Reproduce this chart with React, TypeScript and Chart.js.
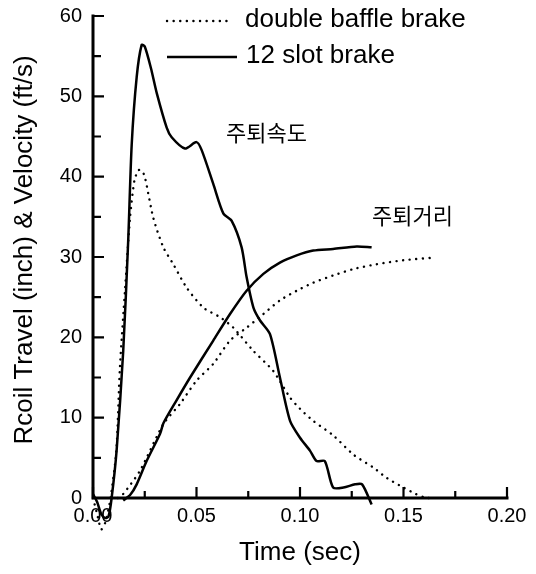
import React, { useEffect, useRef } from "react";
import { Chart, registerables } from "chart.js";

Chart.register(...registerables);

// 12 slot brake - recoil velocity (ft/s)
const slotVelTime = [0, 0.002, 0.004, 0.006, 0.0075, 0.009, 0.0114, 0.0146, 0.017, 0.0187, 0.0211, 0.0235, 0.025, 0.028, 0.0308, 0.0356, 0.038, 0.0444, 0.05, 0.0525, 0.0581, 0.063, 0.067, 0.0718, 0.0742, 0.0775, 0.0807, 0.0855, 0.0903, 0.0952, 0.1, 0.1048, 0.108, 0.112, 0.116, 0.121, 0.1266, 0.13, 0.1346];
const slotVel = [0.5, -0.5, -2.0, -2.5, -2.3, 0, 5.9, 18.3, 32, 44, 52.4, 56.4, 56.2, 53.5, 50.4, 46.1, 44.9, 43.5, 44.3, 43.3, 39.1, 35.4, 34.5, 31.2, 27.5, 23.7, 22.1, 20.4, 15.0, 9.6, 7.5, 5.9, 4.6, 4.6, 1.3, 1.3, 1.7, 1.7, -0.8];

// double baffle brake - recoil velocity (ft/s)
const baffleVelTime = [0, 0.002, 0.004, 0.006, 0.0085, 0.0113, 0.013, 0.0155, 0.0179, 0.02, 0.0219, 0.0235, 0.0251, 0.0291, 0.034, 0.0388, 0.0452, 0.0533, 0.0614, 0.0678, 0.0775, 0.0871, 0.0952, 0.1, 0.1064, 0.116, 0.1258, 0.1354, 0.1419, 0.15, 0.156, 0.161, 0.165];
const baffleVel = [0, -2, -3.9, -3, 0, 6, 16.2, 26, 34.9, 39.5, 40.8, 40.8, 39.9, 34.9, 31.2, 29.1, 26.2, 23.7, 22.5, 21.2, 18.3, 15.8, 12.5, 11.1, 9.6, 7.8, 5.4, 3.8, 2.5, 1.3, 0.5, 0, 0];

// 12 slot brake - recoil travel (inch)
const slotTravelTime = [0.0146, 0.018, 0.0211, 0.0259, 0.0324, 0.034, 0.04, 0.0469, 0.0581, 0.0662, 0.0742, 0.0823, 0.0903, 0.0984, 0.1064, 0.116, 0.1274, 0.1346];
const slotTravel = [-0.3, 0.4, 1.7, 4.6, 8.0, 9.3, 12.0, 15.0, 19.6, 22.9, 25.8, 27.9, 29.3, 30.2, 30.8, 31.0, 31.3, 31.2];

// double baffle brake - recoil travel (inch)
const baffleTravelTime = [0.012, 0.0146, 0.0227, 0.034, 0.042, 0.05, 0.0581, 0.0662, 0.0742, 0.0823, 0.0903, 0.0984, 0.1064, 0.116, 0.1258, 0.137, 0.15, 0.1638];
const baffleTravel = [0, 0.5, 3.4, 9.2, 11.7, 14.6, 16.7, 19.6, 21.2, 22.9, 24.6, 25.8, 26.8, 27.7, 28.5, 29.1, 29.6, 29.9];

const legendNames = ["double baffle brake", "12 slot brake"];
const velocityLabel = "주퇴속도";
const travelLabel = "주퇴거리";
const xTitle = "Time (sec)";
const yTitle = "Rcoil Travel (inch) & Velocity (ft/s)";

const xMajorTicks = [0, 0.05, 0.1, 0.15, 0.2];
const xMinorTicks = [0.025, 0.075, 0.125, 0.175];
const yMajorTicks = [0, 10, 20, 30, 40, 50, 60];
const yMinorTicks = [5, 15, 25, 35, 45, 55];

const FONT = "'Liberation Sans', Arial, Helvetica, sans-serif";
const DOTS = [0.1, 6.5];

function pairs(xs: number[], ys: number[]) {
  return xs.map((x, i) => ({ x, y: ys[i] }));
}

const decorPlugin = {
  id: "decor",
  afterDraw(chart: any) {
    const { ctx, chartArea, scales } = chart;
    const xs = scales.x;
    const ys = scales.y;
    const left = chartArea.left;
    const bottom = chartArea.bottom;
    ctx.save();
    ctx.strokeStyle = "#000";
    ctx.fillStyle = "#000";
    // axes
    ctx.lineWidth = 3;
    ctx.lineCap = "square";
    ctx.beginPath();
    ctx.moveTo(left, ys.getPixelForValue(60));
    ctx.lineTo(left, bottom);
    ctx.lineTo(xs.getPixelForValue(0.2), bottom);
    ctx.stroke();
    // inward ticks
    ctx.lineWidth = 2.2;
    ctx.lineCap = "butt";
    ctx.beginPath();
    xMajorTicks.forEach((t) => {
      const p = xs.getPixelForValue(t);
      ctx.moveTo(p, bottom);
      ctx.lineTo(p, bottom - 11);
    });
    xMinorTicks.forEach((t) => {
      const p = xs.getPixelForValue(t);
      ctx.moveTo(p, bottom);
      ctx.lineTo(p, bottom - 7);
    });
    yMajorTicks.forEach((v) => {
      const p = ys.getPixelForValue(v);
      ctx.moveTo(left, p);
      ctx.lineTo(left + 11, p);
    });
    yMinorTicks.forEach((v) => {
      const p = ys.getPixelForValue(v);
      ctx.moveTo(left, p);
      ctx.lineTo(left + 8, p);
    });
    ctx.stroke();

    // legend
    const lx0 = 167;
    const lx1 = 233;
    ctx.lineWidth = 2.4;
    ctx.lineCap = "round";
    ctx.setLineDash(DOTS);
    ctx.beginPath();
    ctx.moveTo(lx0, 21);
    ctx.lineTo(lx1, 21);
    ctx.stroke();
    ctx.setLineDash([]);
    ctx.lineCap = "butt";
    ctx.lineWidth = 2.5;
    ctx.beginPath();
    ctx.moveTo(lx0, 57);
    ctx.lineTo(lx1 + 4, 57);
    ctx.stroke();
    ctx.font = `26px ${FONT}`;
    ctx.textAlign = "left";
    ctx.textBaseline = "alphabetic";
    ctx.fillText(legendNames[0], 245, 27);
    ctx.fillText(legendNames[1], 246, 63);

    // Korean annotations
    ctx.font = "22px 'Noto Sans CJK KR', sans-serif";
    ctx.textBaseline = "middle";
    ctx.fillText(velocityLabel, xs.getPixelForValue(0.0643), ys.getPixelForValue(45.5));
    ctx.fillText(travelLabel, xs.getPixelForValue(0.1348), ys.getPixelForValue(35.1));

    // axis titles
    ctx.font = `26px ${FONT}`;
    ctx.textAlign = "center";
    ctx.textBaseline = "middle";
    ctx.fillText(xTitle, (xs.getPixelForValue(0) + xs.getPixelForValue(0.2)) / 2, 553);
    ctx.save();
    ctx.translate(25, 250);
    ctx.rotate(-Math.PI / 2);
    ctx.fillText(yTitle, 0, 0);
    ctx.restore();

    ctx.restore();
  },
};

export default function App() {
  const ref = useRef<HTMLCanvasElement | null>(null);
  useEffect(() => {
    if (!ref.current) return;
    const solid = {
      borderColor: "#000",
      borderWidth: 2.5,
      pointRadius: 0,
      tension: 0.25,
      fill: false,
      clip: false as any,
    };
    const dotted = {
      ...solid,
      borderDash: DOTS,
      borderCapStyle: "round" as const,
      borderWidth: 2.4,
    };
    const chart = new Chart(ref.current, {
      type: "line",
      data: {
        datasets: [
          { label: legendNames[0] + " velocity", data: pairs(baffleVelTime, baffleVel), ...dotted },
          { label: legendNames[1] + " velocity", data: pairs(slotVelTime, slotVel), ...solid },
          { label: legendNames[0] + " travel", data: pairs(baffleTravelTime, baffleTravel), ...dotted },
          { label: legendNames[1] + " travel", data: pairs(slotTravelTime, slotTravel), ...solid },
        ],
      },
      options: {
        responsive: false,
        animation: false,
        devicePixelRatio: 1,
        layout: { padding: { top: 16, right: 29, left: 0, bottom: 0 } },
        plugins: { legend: { display: false }, tooltip: { enabled: false } },
        scales: {
          x: {
            type: "linear",
            min: 0,
            max: 0.2,
            grid: { display: false, drawTicks: false },
            border: { display: false },
            afterFit: (s: any) => {
              s.height = 76;
              s.paddingLeft = 0;
              s.paddingRight = 0;
            },
            afterBuildTicks: (s: any) => {
              s.ticks = xMajorTicks.map((v) => ({ value: v }));
            },
            ticks: {
              color: "#000",
              padding: 6,
              font: { family: FONT, size: 20 },
              maxRotation: 0,
              autoSkip: false,
              callback: (v: any) => Number(v).toFixed(2),
            },
          },
          y: {
            type: "linear",
            min: 0,
            max: 60,
            grid: { display: false, drawTicks: false },
            border: { display: false },
            afterFit: (s: any) => {
              s.width = 93;
              s.paddingTop = 0;
              s.paddingBottom = 0;
            },
            afterBuildTicks: (s: any) => {
              s.ticks = yMajorTicks.map((v) => ({ value: v }));
            },
            ticks: {
              color: "#000",
              padding: 11,
              font: { family: FONT, size: 20 },
              autoSkip: false,
              callback: (v: any) => String(v),
            },
          },
        },
      },
      plugins: [decorPlugin],
    });
    return () => chart.destroy();
  }, []);
  return (
    <div style={{ position: "absolute", left: 0, top: 0, width: 536, height: 574, background: "#fff" }}>
      <canvas ref={ref} width={536} height={574} style={{ width: 536, height: 574 }} />
    </div>
  );
}
